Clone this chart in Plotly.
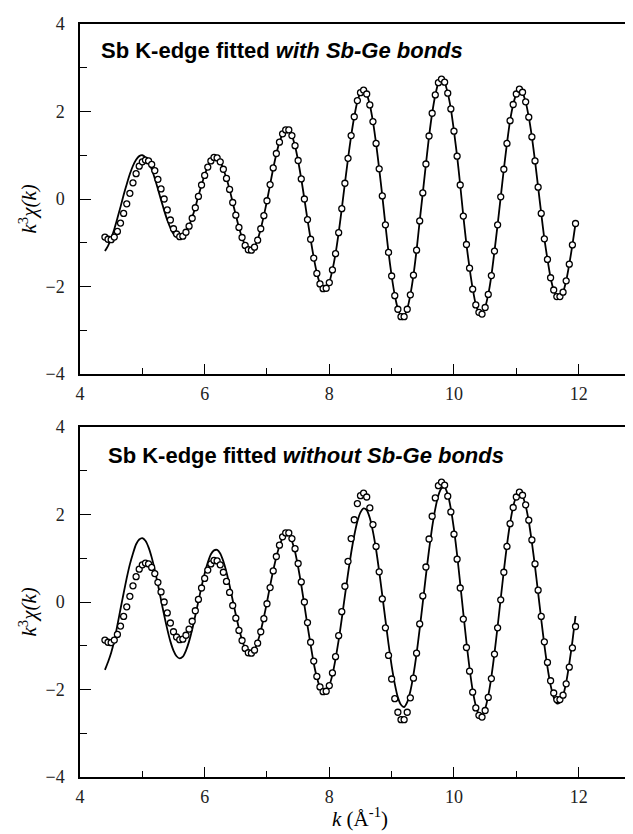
import plotly.graph_objects as go

k_data = [
    4.40, 4.45, 4.50, 4.55, 4.60, 4.65, 4.70, 4.75, 4.80, 4.85,
    4.90, 4.95, 5.00, 5.05, 5.10, 5.15, 5.20, 5.25, 5.30, 5.35,
    5.40, 5.45, 5.50, 5.55, 5.60, 5.65, 5.70, 5.75, 5.80, 5.85,
    5.90, 5.95, 6.00, 6.05, 6.10, 6.15, 6.20, 6.25, 6.30, 6.35,
    6.40, 6.45, 6.50, 6.55, 6.60, 6.65, 6.70, 6.75, 6.80, 6.85,
    6.90, 6.95, 7.00, 7.05, 7.10, 7.15, 7.20, 7.25, 7.30, 7.35,
    7.40, 7.45, 7.50, 7.55, 7.60, 7.65, 7.70, 7.75, 7.80, 7.85,
    7.90, 7.95, 8.00, 8.05, 8.10, 8.15, 8.20, 8.25, 8.30, 8.35,
    8.40, 8.45, 8.50, 8.55, 8.60, 8.65, 8.70, 8.75, 8.80, 8.85,
    8.90, 8.95, 9.00, 9.05, 9.10, 9.15, 9.20, 9.25, 9.30, 9.35,
    9.40, 9.45, 9.50, 9.55, 9.60, 9.65, 9.70, 9.75, 9.80, 9.85,
    9.90, 9.95, 10.00, 10.05, 10.10, 10.15, 10.20, 10.25, 10.30, 10.35,
    10.40, 10.45, 10.50, 10.55, 10.60, 10.65, 10.70, 10.75, 10.80, 10.85,
    10.90, 10.95, 11.00, 11.05, 11.10, 11.15, 11.20, 11.25, 11.30, 11.35,
    11.40, 11.45, 11.50, 11.55, 11.60, 11.65, 11.70, 11.75, 11.80, 11.85,
    11.90, 11.95,
]

# experimental k^3 chi(k) (open circles, same in both panels)
chi_exp = [
    -0.87, -0.92, -0.93, -0.87, -0.74, -0.55, -0.33, -0.11, 0.13, 0.37,
    0.58, 0.75, 0.85, 0.89, 0.87, 0.79, 0.65, 0.45, 0.23, 0.00,
    -0.25, -0.48, -0.68, -0.80, -0.86, -0.85, -0.76, -0.62, -0.44, -0.20,
    0.06, 0.32, 0.54, 0.73, 0.87, 0.95, 0.94, 0.85, 0.68, 0.47,
    0.22, -0.08, -0.37, -0.65, -0.88, -1.06, -1.16, -1.17, -1.10, -0.94,
    -0.68, -0.38, -0.04, 0.33, 0.71, 1.04, 1.30, 1.49, 1.58, 1.58,
    1.45, 1.22, 0.88, 0.46, 0.00, -0.47, -0.92, -1.35, -1.70, -1.94,
    -2.05, -2.04, -1.91, -1.62, -1.25, -0.77, -0.22, 0.36, 0.93, 1.45,
    1.88, 2.25, 2.43, 2.49, 2.40, 2.15, 1.77, 1.27, 0.69, 0.07,
    -0.59, -1.22, -1.76, -2.21, -2.52, -2.69, -2.69, -2.52, -2.19, -1.74,
    -1.17, -0.50, 0.14, 0.80, 1.44, 1.96, 2.38, 2.66, 2.74, 2.67,
    2.42, 2.06, 1.55, 0.98, 0.32, -0.39, -1.04, -1.58, -2.06, -2.42,
    -2.59, -2.63, -2.48, -2.18, -1.75, -1.19, -0.59, 0.05, 0.68, 1.27,
    1.79, 2.16, 2.40, 2.51, 2.44, 2.22, 1.87, 1.42, 0.87, 0.27,
    -0.33, -0.91, -1.38, -1.80, -2.08, -2.23, -2.23, -2.13, -1.87, -1.49,
    -1.05, -0.56,
]

# fit with Sb-Ge bonds (top panel line)
fit_with = [
    -1.19, -1.07, -0.90, -0.69, -0.44, -0.18, 0.09, 0.34, 0.57, 0.76,
    0.90, 0.98, 1.00, 0.95, 0.84, 0.68, 0.47, 0.23, -0.02, -0.26,
    -0.48, -0.66, -0.80, -0.87, -0.88, -0.84, -0.75, -0.61, -0.42, -0.19,
    0.07, 0.32, 0.55, 0.74, 0.87, 0.94, 0.94, 0.85, 0.68, 0.47,
    0.22, -0.08, -0.37, -0.65, -0.88, -1.06, -1.15, -1.16, -1.09, -0.93,
    -0.68, -0.38, -0.04, 0.33, 0.70, 1.03, 1.30, 1.48, 1.57, 1.57,
    1.45, 1.21, 0.87, 0.46, 0.00, -0.47, -0.92, -1.34, -1.69, -1.93,
    -2.04, -2.03, -1.90, -1.62, -1.25, -0.77, -0.22, 0.36, 0.92, 1.44,
    1.88, 2.23, 2.43, 2.48, 2.39, 2.15, 1.77, 1.27, 0.69, 0.07,
    -0.59, -1.22, -1.76, -2.20, -2.51, -2.67, -2.67, -2.51, -2.19, -1.74,
    -1.17, -0.50, 0.14, 0.80, 1.43, 1.96, 2.37, 2.65, 2.72, 2.66,
    2.42, 2.06, 1.55, 0.98, 0.32, -0.39, -1.04, -1.58, -2.05, -2.41,
    -2.58, -2.61, -2.47, -2.18, -1.75, -1.19, -0.59, 0.05, 0.68, 1.27,
    1.79, 2.16, 2.40, 2.50, 2.43, 2.22, 1.87, 1.42, 0.87, 0.27,
    -0.33, -0.91, -1.38, -1.80, -2.08, -2.22, -2.22, -2.13, -1.87, -1.49,
    -1.05, -0.56,
]

# fit without Sb-Ge bonds (bottom panel line)
fit_without = [
    -1.55, -1.37, -1.16, -0.88, -0.53, -0.16, 0.20, 0.55, 0.86, 1.11,
    1.32, 1.43, 1.46, 1.40, 1.25, 1.02, 0.73, 0.40, 0.05, -0.30,
    -0.62, -0.90, -1.11, -1.24, -1.29, -1.25, -1.11, -0.90, -0.63, -0.31,
    0.02, 0.35, 0.65, 0.90, 1.09, 1.18, 1.19, 1.11, 0.93, 0.68,
    0.38, 0.04, -0.29, -0.60, -0.87, -1.06, -1.16, -1.17, -1.09, -0.91,
    -0.66, -0.35, 0.00, 0.37, 0.72, 1.03, 1.28, 1.46, 1.54, 1.53,
    1.39, 1.15, 0.80, 0.39, -0.07, -0.54, -0.98, -1.40, -1.72, -1.95,
    -2.06, -2.05, -1.91, -1.66, -1.30, -0.87, -0.38, 0.14, 0.65, 1.12,
    1.52, 1.84, 2.05, 2.14, 2.10, 1.92, 1.61, 1.20, 0.70, 0.15,
    -0.41, -0.96, -1.46, -1.87, -2.18, -2.35, -2.40, -2.29, -2.04, -1.66,
    -1.18, -0.61, -0.01, 0.61, 1.19, 1.71, 2.13, 2.44, 2.60, 2.62,
    2.46, 2.13, 1.66, 1.08, 0.42, -0.26, -0.92, -1.52, -2.02, -2.37,
    -2.57, -2.59, -2.44, -2.14, -1.71, -1.17, -0.56, 0.08, 0.71, 1.30,
    1.80, 2.18, 2.42, 2.50, 2.42, 2.20, 1.84, 1.36, 0.81, 0.21,
    -0.40, -0.98, -1.49, -1.90, -2.18, -2.32, -2.30, -2.14, -1.84, -1.41,
    -0.90, -0.32,
]

x_ticks = [4, 6, 8, 10, 12]
y_ticks = [-4, -2, 0, 2, 4]
panel_titles = [
    "<b>Sb K-edge fitted <i>with Sb-Ge bonds</i></b>",
    "<b>Sb K-edge fitted <i>without Sb-Ge bonds</i></b>",
]

# page has an 8px body margin: the figure starts at (8, 8) in the window
OFF = 8
PAGE_W, PAGE_H = 633, 834
W, H = PAGE_W - OFF, PAGE_H - OFF
ML, MT, MB = 80 - OFF, 24 - OFF, 57
plot_w = W - ML
plot_h = H - MT - MB
panel_px = 350
top_dom = [1 - panel_px / plot_h, 1]
bot_dom = [0, panel_px / plot_h]

fig = go.Figure()
for i, fit in enumerate([fit_with, fit_without]):
    xa = "x" if i == 0 else "x2"
    ya = "y" if i == 0 else "y2"
    fig.add_trace(go.Scatter(
        x=k_data, y=fit, mode="lines", xaxis=xa, yaxis=ya,
        line=dict(color="black", width=1.8, shape="spline", smoothing=0.6),
        showlegend=False, hoverinfo="skip"))
    fig.add_trace(go.Scatter(
        x=k_data, y=chi_exp, mode="markers", xaxis=xa, yaxis=ya,
        marker=dict(symbol="circle", size=6, color="white",
                    line=dict(color="black", width=1.3)),
        showlegend=False))

tick_font = dict(family="Liberation Serif, Times New Roman, serif", size=18, color="#222")
x_common = dict(
    range=[4, 4 + plot_w / 62.33], tickvals=x_ticks, ticks="inside", ticklen=10,
    tickwidth=1.3, tickcolor="black", showline=True, linecolor="black", linewidth=1.5,
    mirror=True, showgrid=False, zeroline=False, tickfont=tick_font, automargin=False,
    ticklabelstandoff=3,
    minor=dict(tickvals=[5, 7, 9, 11], ticks="inside", ticklen=6, tickwidth=1.3,
               tickcolor="black", showgrid=False),
)
y_common = dict(
    range=[-4, 4], tickvals=y_ticks, ticks="inside", ticklen=11, tickwidth=1.3,
    tickcolor="black", showline=True, linecolor="black", linewidth=1.5,
    showgrid=False, zeroline=False, tickfont=tick_font, ticklabelstandoff=10,
    automargin=False,
    minor=dict(tickvals=[-3, -1, 1, 3], ticks="inside", ticklen=7, tickwidth=1.3,
               tickcolor="black", showgrid=False),
)

fig.update_layout(
    width=W, height=H, paper_bgcolor="white", plot_bgcolor="white",
    margin=dict(l=ML, r=0, t=MT, b=MB, autoexpand=False),
    xaxis=dict(domain=[0, 1], anchor="y", **x_common),
    yaxis=dict(domain=top_dom, anchor="x", **y_common),
    xaxis2=dict(domain=[0, 1], anchor="y2", **x_common),
    yaxis2=dict(domain=bot_dom, anchor="x2", **y_common),
)

ann_font = dict(family="Liberation Sans, Arial, sans-serif", size=22, color="black")
fig.add_annotation(text=panel_titles[0], xref="x", yref="y", x=4.30, y=3.4,
                   xanchor="left", yanchor="middle", showarrow=False, font=ann_font)
fig.add_annotation(text=panel_titles[1], xref="x2", yref="y2", x=4.41, y=3.35,
                   xanchor="left", yanchor="middle", showarrow=False, font=ann_font)

ytitle = "<i>k</i><sup>3</sup><i>χ(k)</i>"
title_font = dict(family="Liberation Serif, Times New Roman, serif", size=21, color="black")
for yr in ["y domain", "y2 domain"]:
    fig.add_annotation(text=ytitle, xref="paper", x=(28 - 80) / plot_w, xanchor="center",
                       yref=yr, y=0.47, yanchor="middle", textangle=-90,
                       showarrow=False, font=title_font)
fig.add_annotation(text="<i>k</i> (Å<sup>-1</sup>)", xref="paper", x=(360 - 80) / plot_w,
                   xanchor="center", yref="paper", y=-(833 - 777) / plot_h,
                   yanchor="bottom", showarrow=False, font=title_font)

fig.write_html("out.html")
